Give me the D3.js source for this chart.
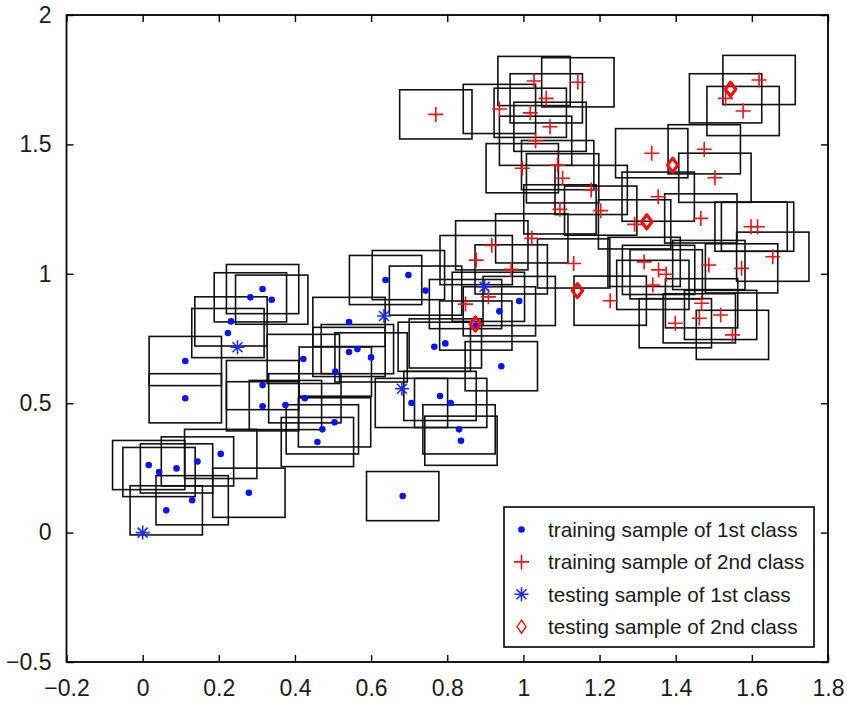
<!DOCTYPE html>
<html>
<head>
<meta charset="utf-8">
<script src="https://cdn.jsdelivr.net/npm/d3@7"></script>
<style>
  body { margin: 0; background: #fff; }
  svg { display: block; font-family: "Liberation Sans", Arial, sans-serif; }
</style>
</head>
<body>
<svg id="svg"></svg>
<script>
// training samples, 1st class (blue dots)
var train1X = [0.016, 0.043, 0.089, 0.144, 0.205, 0.130, 0.062, 0.279, 0.315, 0.283, 0.339,
  0.232, 0.224, 0.112, 0.112, 0.422, 0.315, 0.315, 0.375, 0.426, 0.459, 0.472, 0.504, 0.542,
  0.542, 0.564, 0.600, 0.506, 0.638, 0.698, 0.743, 0.706, 0.781, 0.809, 0.831, 0.836, 0.683,
  0.766, 0.795, 0.942, 0.989, 0.937, 0.875];
var train1Y = [0.261, 0.234, 0.248, 0.275, 0.304, 0.125, 0.086, 0.154, 0.941, 0.909, 0.900,
  0.816, 0.771, 0.663, 0.519, 0.671, 0.570, 0.488, 0.493, 0.519, 0.350, 0.399, 0.426, 0.814,
  0.698, 0.709, 0.677, 0.622, 0.976, 0.995, 0.935, 0.501, 0.528, 0.501, 0.399, 0.355, 0.141,
  0.718, 0.731, 0.643, 0.895, 0.855, 0.800];

// training samples, 2nd class (red +)
var train2X = [0.770, 1.028, 1.143, 1.060, 0.937, 1.018, 1.070, 1.032, 0.997, 1.103, 1.178,
  1.096, 1.203, 1.292, 1.022, 0.917, 0.876, 0.968, 1.132, 1.317, 0.848, 0.908, 1.090, 1.619,
  1.531, 1.577, 1.337, 1.475, 1.503, 1.354, 1.466, 1.598, 1.615, 1.655, 1.573, 1.487, 1.355,
  1.375, 1.340, 1.228, 1.468, 1.518, 1.462, 1.399, 1.549];
var train2Y = [1.616, 1.745, 1.740, 1.678, 1.637, 1.622, 1.568, 1.514, 1.408, 1.369, 1.324,
  1.249, 1.244, 1.191, 1.137, 1.110, 1.053, 1.017, 1.040, 1.046, 0.883, 0.911, 1.420, 1.749,
  1.678, 1.629, 1.466, 1.481, 1.371, 1.298, 1.214, 1.182, 1.182, 1.066, 1.021, 1.034, 1.015,
  0.998, 0.957, 0.896, 0.886, 0.841, 0.828, 0.809, 0.764];

// testing samples
var test1X = [0.0, 0.249, 0.634, 0.681, 0.898];
var test1Y = [0.0, 0.716, 0.837, 0.556, 0.950];
var test2X = [0.874, 1.142, 1.324, 1.392, 1.544];
var test2Y = [0.806, 0.935, 1.201, 1.420, 1.713];

// axes
var xTicks = [-0.2, 0, 0.2, 0.4, 0.6, 0.8, 1, 1.2, 1.4, 1.6, 1.8];
var yTicks = [-0.5, 0, 0.5, 1, 1.5, 2];

var legendLabels = ["training sample of 1st class", "training sample of 2nd class",
  "testing sample of 1st class", "testing sample of 2nd class"];

// half size of the interval box around each training sample
var boxHalfX = 0.095, boxHalfY = 0.095;

var W = 847, H = 703;
var L = 66.5, R = 828, T = 15, B = 662;

var svg = d3.select("#svg").attr("width", W).attr("height", H);

var x = d3.scaleLinear().domain([-0.2, 1.8]).range([L, R]);
var y = d3.scaleLinear().domain([-0.5, 2]).range([B, T]);

var fmt = function(d){ return d3.format("")(+d.toFixed(1)); };

// axes, ticks pointing inward on all four sides
svg.append("g").attr("transform", "translate(0," + B + ")")
  .call(d3.axisBottom(x).tickValues(xTicks).tickFormat(fmt).tickSizeInner(-7).tickSizeOuter(0).tickPadding(18));
svg.append("g").attr("transform", "translate(" + L + ",0)")
  .call(d3.axisLeft(y).tickValues(yTicks).tickFormat(fmt).tickSizeInner(-7).tickSizeOuter(0).tickPadding(15));
svg.append("g").attr("transform", "translate(0," + T + ")")
  .call(d3.axisTop(x).tickValues(xTicks).tickFormat("").tickSizeInner(-7).tickSizeOuter(0));
svg.append("g").attr("transform", "translate(" + R + ",0)")
  .call(d3.axisRight(y).tickValues(yTicks).tickFormat("").tickSizeInner(-7).tickSizeOuter(0));

svg.selectAll(".domain").remove();
svg.selectAll(".tick line").attr("stroke", "#000").attr("stroke-width", 1.4);
svg.selectAll(".tick text").attr("fill", "#1a1a1a").style("font-size", "23px").style("font-family", "Liberation Sans, Arial, sans-serif");

var plot = svg.append("g");

var pts1 = train1X.map(function(d, i){ return [d, train1Y[i]]; });
var pts2 = train2X.map(function(d, i){ return [d, train2Y[i]]; });
var tst1 = test1X.map(function(d, i){ return [d, test1Y[i]]; });
var tst2 = test2X.map(function(d, i){ return [d, test2Y[i]]; });

// boxes around the training samples
plot.selectAll("rect.box")
  .data(pts1.concat(pts2))
  .enter()
  .append("rect")
  .attr("class", "box")
  .attr("x", function(d){ return x(d[0] - boxHalfX); })
  .attr("y", function(d){ return y(d[1] + boxHalfY); })
  .attr("width", function(d){ return x(d[0] + boxHalfX) - x(d[0] - boxHalfX); })
  .attr("height", function(d){ return y(d[1] - boxHalfY) - y(d[1] + boxHalfY); })
  .attr("fill", "none")
  .attr("stroke", "#111")
  .attr("stroke-width", 1.6);

// marker shapes
function dot(g){ g.append("circle").attr("r", 3.3).attr("fill", "#0a14f5"); }
function plus(g){
  g.append("path").attr("d", "M-7.5,0H7.5M0,-7.5V7.5").attr("stroke", "#ff1010").attr("stroke-width", 1.6).attr("fill", "none");
}
function star(g){
  g.append("path").attr("d", "M-7,0H7M0,-7V7M-5,-5L5,5M-5,5L5,-5").attr("stroke", "#1a2cff").attr("stroke-width", 1.6).attr("fill", "none");
}
function diamond(g){
  g.append("path").attr("d", "M0,-7L5.2,0L0,7L-5.2,0Z").attr("stroke", "#ff0a0a").attr("stroke-width", 3.2).attr("stroke-linejoin", "round").attr("fill", "none");
}

function markers(data, shape){
  plot.append("g").selectAll("g")
    .data(data)
    .enter()
    .append("g")
    .attr("transform", function(d){ return "translate(" + x(d[0]) + "," + y(d[1]) + ")"; })
    .each(function(){ shape(d3.select(this)); });
}

markers(pts1, dot);
markers(pts2, plus);
markers(tst1, star);
markers(tst2, diamond);

// frame
svg.append("rect")
  .attr("x", L).attr("y", T).attr("width", R - L).attr("height", B - T)
  .attr("fill", "none").attr("stroke", "#000").attr("stroke-width", 1.8);

// legend
var leg = svg.append("g");
leg.append("rect")
  .attr("x", 504).attr("y", 507).attr("width", 310).attr("height", 140)
  .attr("fill", "#fff").attr("stroke", "#000").attr("stroke-width", 1.6);

var shapes = [dot, plus, star, function(g){
  g.append("path").attr("d", "M0,-6.5L4.5,0L0,6.5L-4.5,0Z").attr("stroke", "#ff0a0a").attr("stroke-width", 1.4).attr("fill", "none");
}];

legendLabels.forEach(function(lab, i){
  var ly = 529.5 + i * 32.4;
  var m = leg.append("g").attr("transform", "translate(521.5," + ly + ")");
  shapes[i](m);
  leg.append("text")
    .text(lab)
    .attr("x", 548)
    .attr("y", ly)
    .attr("dy", "0.35em")
    .attr("fill", "#1a1a1a")
    .style("font-size", "20.7px");
});
</script>
</body>
</html>
